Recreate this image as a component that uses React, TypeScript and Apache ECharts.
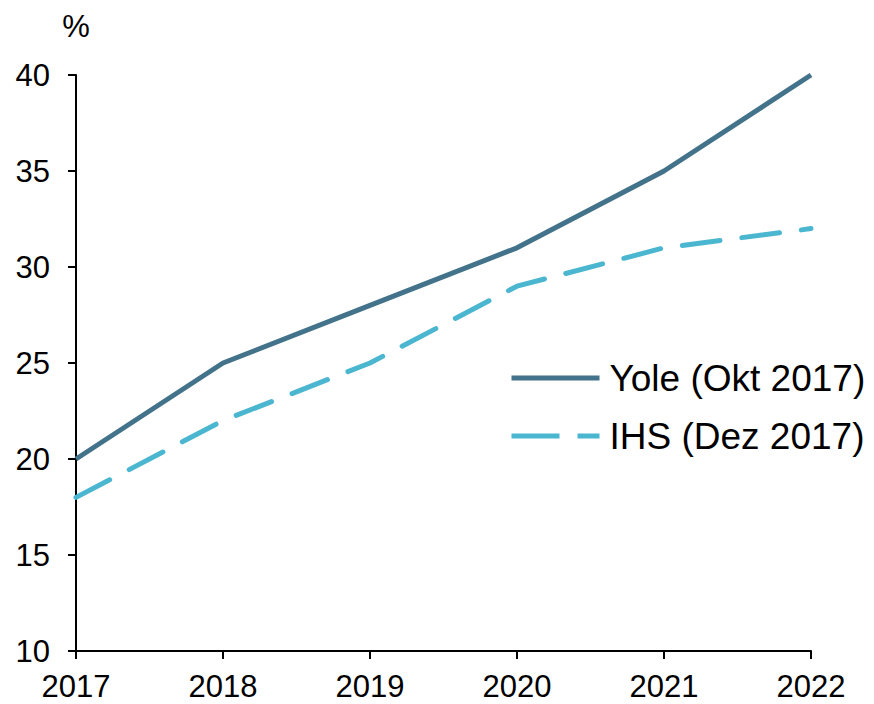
import React, { useEffect, useRef } from "react";
import * as echarts from "echarts";

const years = ["2017", "2018", "2019", "2020", "2021", "2022"];
const yoleValues = [20, 25, 28, 31, 35, 40];
const ihsValues = [18, 22, 25, 29, 31, 32];
const yoleName = "Yole (Okt 2017)";
const ihsName = "IHS (Dez 2017)";
const yoleColor = "#43738A";
const ihsColor = "#4BB6CF";

export default function App() {
  const ref = useRef<HTMLDivElement>(null);
  useEffect(() => {
    if (!ref.current) return;
    const chart = echarts.init(ref.current, undefined, { renderer: "svg" });
    const font = "Liberation Sans, Arial, sans-serif";
    chart.setOption({
      animation: false,
      backgroundColor: "#ffffff",
      grid: { left: 76, right: 63, top: 75, bottom: 53, containLabel: false },
      legend: {
        orient: "vertical",
        left: 504,
        top: 354,
        itemWidth: 88,
        itemHeight: 14,
        itemGap: 20,
        textStyle: { fontFamily: font, fontSize: 37, color: "#000", lineHeight: 38, padding: [0, 0, 0, 5] },
        data: [
          {
            name: yoleName,
            itemStyle: { color: "rgba(0,0,0,0)", borderWidth: 0, opacity: 0 },
            lineStyle: { width: 5, type: "solid", cap: "butt" },
          },
          {
            name: ihsName,
            itemStyle: { color: "rgba(0,0,0,0)", borderWidth: 0, opacity: 0 },
            lineStyle: { width: 5, type: [48, 18], cap: "butt" },
          },
        ],
      },
      xAxis: {
        type: "category",
        data: years,
        boundaryGap: false,
        axisLine: { lineStyle: { color: "#000", width: 2 } },
        axisTick: { show: true, length: 8, inside: false, lineStyle: { color: "#000", width: 2 }, alignWithLabel: true },
        axisLabel: { fontFamily: font, fontSize: 31, color: "#000", margin: 20 },
        splitLine: { show: false },
      },
      yAxis: {
        type: "value",
        min: 10,
        max: 40,
        interval: 5,
        name: "%",
        nameLocation: "end",
        nameGap: 33,
        nameTextStyle: { fontFamily: font, fontSize: 31, color: "#000", align: "center" },
        axisLine: { show: true, lineStyle: { color: "#000", width: 2 } },
        axisTick: { show: true, length: 8, inside: false, lineStyle: { color: "#000", width: 2 } },
        axisLabel: { fontFamily: font, fontSize: 31, color: "#000", margin: 26 },
        splitLine: { show: false },
      },
      series: [
        {
          name: yoleName,
          type: "line",
          data: yoleValues,
          symbol: "none",
          color: yoleColor,
          lineStyle: { width: 5, color: yoleColor, type: "solid" },
          z: 3,
        },
        {
          name: ihsName,
          type: "line",
          data: ihsValues,
          symbol: "none",
          color: ihsColor,
          lineStyle: { width: 5, color: ihsColor, type: [38, 22], cap: "round" },
          z: 2,
        },
      ],
    });
    return () => chart.dispose();
  }, []);
  return <div ref={ref} style={{ width: 874, height: 704, position: "absolute", left: 0, top: 0 }} />;
}
